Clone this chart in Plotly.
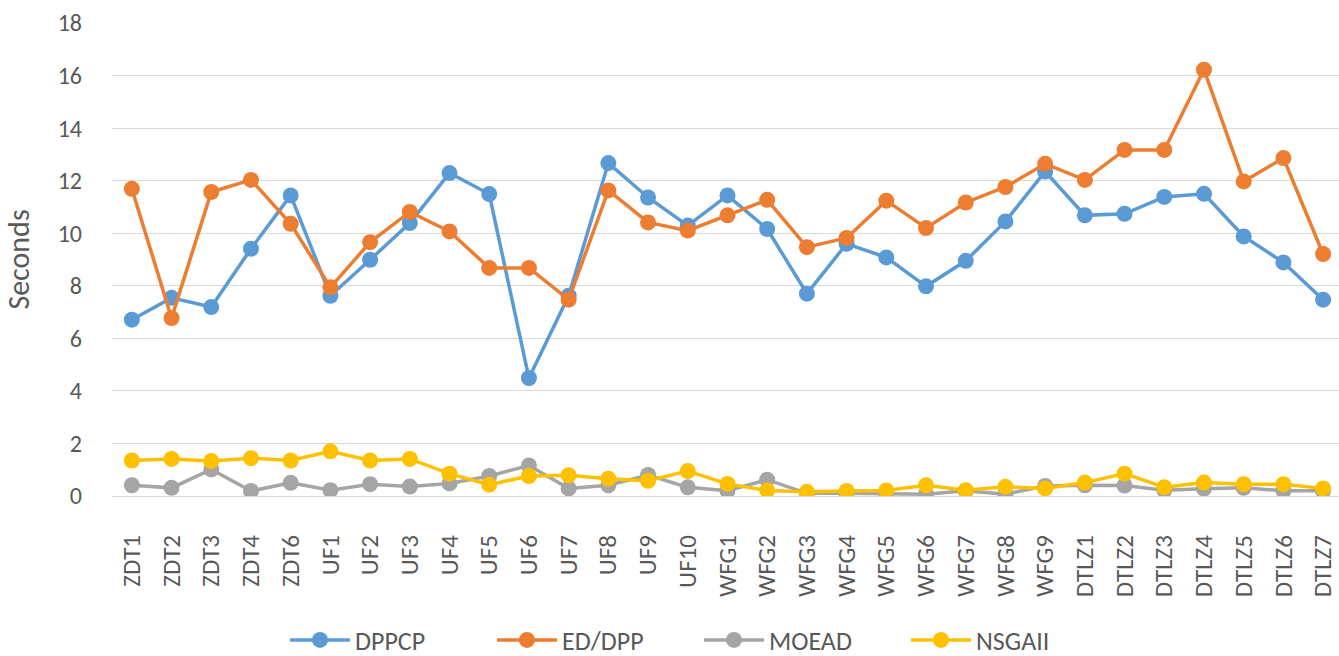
import plotly.graph_objects as go

problems = ['ZDT1', 'ZDT2', 'ZDT3', 'ZDT4', 'ZDT6',
            'UF1', 'UF2', 'UF3', 'UF4', 'UF5', 'UF6', 'UF7', 'UF8', 'UF9', 'UF10',
            'WFG1', 'WFG2', 'WFG3', 'WFG4', 'WFG5', 'WFG6', 'WFG7', 'WFG8', 'WFG9',
            'DTLZ1', 'DTLZ2', 'DTLZ3', 'DTLZ4', 'DTLZ5', 'DTLZ6', 'DTLZ7']

dppcp = [6.71, 7.54, 7.19, 9.41, 11.44,
         7.62, 8.99, 10.39, 12.29, 11.49, 4.49, 7.62, 12.67, 11.36, 10.29,
         11.44, 10.16, 7.70, 9.60, 9.08, 7.98, 8.95, 10.45, 12.35,
         10.68, 10.74, 11.38, 11.50, 9.88, 8.89, 7.47]

ed_dpp = [11.69, 6.77, 11.57, 12.03, 10.36,
          7.94, 9.66, 10.81, 10.07, 8.68, 8.68, 7.47, 11.63, 10.41, 10.10,
          10.68, 11.27, 9.47, 9.82, 11.24, 10.20, 11.17, 11.76, 12.64,
          12.03, 13.17, 13.17, 16.22, 11.97, 12.86, 9.21]

moead = [0.41, 0.31, 1.01, 0.19, 0.50,
         0.22, 0.45, 0.36, 0.48, 0.76, 1.16, 0.29, 0.41, 0.80, 0.33,
         0.20, 0.62, 0.10, 0.10, 0.10, 0.07, 0.20, 0.07, 0.38,
         0.41, 0.40, 0.22, 0.28, 0.31, 0.20, 0.20]

nsgaii = [1.35, 1.41, 1.33, 1.44, 1.35,
          1.70, 1.35, 1.41, 0.85, 0.43, 0.76, 0.79, 0.66, 0.58, 0.95,
          0.46, 0.21, 0.16, 0.19, 0.21, 0.41, 0.22, 0.35, 0.29,
          0.51, 0.85, 0.33, 0.51, 0.45, 0.45, 0.29]

series = [
    ('DPPCP', dppcp, '#5B9BD5'),
    ('ED/DPP', ed_dpp, '#ED7D31'),
    ('MOEAD', moead, '#A5A5A5'),
    ('NSGAII', nsgaii, '#FFC000'),
]

font_family = 'Carlito, Calibri, Lato, sans-serif'
text_grey = '#595959'

fig = go.Figure()

for name, values, color in series:
    fig.add_trace(go.Scatter(
        x=problems,
        y=values,
        name=name,
        mode='lines+markers',
        line=dict(color=color, width=3.5),
        marker=dict(color=color, size=16)
    ))

fig.update_layout(
    width=1339,
    height=656,
    paper_bgcolor='white',
    plot_bgcolor='white',
    margin=dict(l=112, r=0, t=23, b=160),
    font=dict(family=font_family, color=text_grey),
    showlegend=True,
    legend=dict(
        orientation='h',
        xref='container', yref='container',
        x=285 / 1339, xanchor='left',
        y=16 / 656, yanchor='middle',
        font=dict(size=26, color=text_grey),
        itemwidth=60,
        entrywidth=132,
        tracegroupgap=0
    ),
    xaxis=dict(
        type='category',
        range=[-0.5, 30.4],
        tickangle=-90,
        tickfont=dict(size=25, color=text_grey),
        ticklabelstandoff=33,
        showgrid=False,
        showline=False,
        ticks='',
        automargin=False
    ),
    yaxis=dict(
        title=dict(text='Seconds', font=dict(size=30, color=text_grey), standoff=20),
        range=[0, 18],
        dtick=2,
        tickfont=dict(size=24, color=text_grey),
        gridcolor='#D9D9D9',
        gridwidth=1,
        zeroline=True,
        zerolinecolor='#D9D9D9',
        zerolinewidth=1,
        showline=False,
        ticks='',
        ticklabelstandoff=29,
        automargin=False
    )
)

# the page body has a default 8px margin; drop it so the figure sits at the window corner
fig.write_html("out.html", config={'displayModeBar': False},
               post_script="document.body.style.margin = '0';")
